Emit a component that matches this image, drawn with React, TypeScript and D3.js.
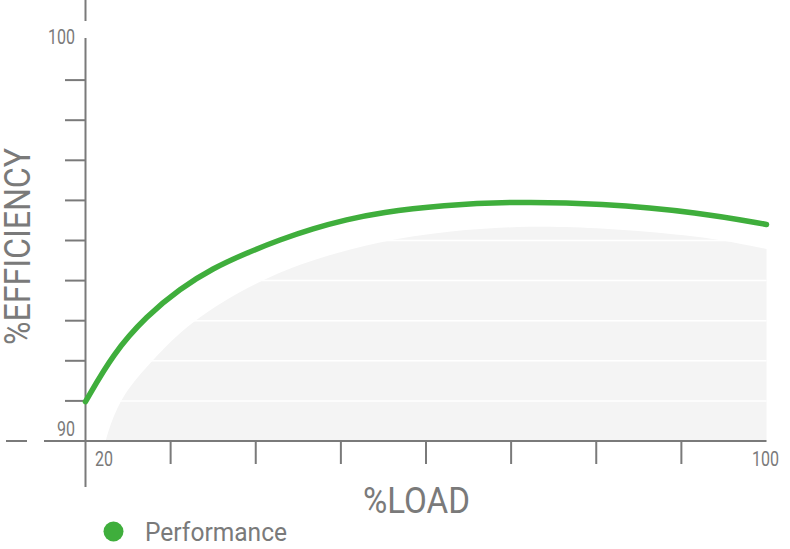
import React from "react";
import * as d3 from "d3";

const loadTicks = [30, 40, 50, 60, 70, 80, 90];
const effTicks = [91, 92, 93, 94, 95, 96, 97, 98, 99];
const gridLines = [91, 92, 93, 94, 95];

const perfLoad = [20, 23.27, 27.19, 31.1, 34.98, 38.94, 42.85, 46.73, 50.68, 54.6, 62, 70.22, 80.44, 92.19, 100];
const perfEff = [90.98, 92.19, 93.12, 93.8, 94.31, 94.69, 95.02, 95.3, 95.52, 95.7, 95.88, 95.97, 95.93, 95.7, 95.4];

const bgLoad = [22.37, 22.9, 24.05, 25.81, 27.69, 32.28, 40.15, 47, 54.24, 62.82, 72.22, 80.44, 92.19, 100];
const bgEff = [90, 90.4, 91.0, 91.52, 91.97, 92.99, 93.99, 94.55, 94.97, 95.25, 95.37, 95.32, 95.12, 94.79];

const W = 790;
const H = 549;
const GRAY = "#7a7a7a";
const GREEN = "#3fae3c";
const FONT = "Roboto, 'Noto Sans', sans-serif";

export default function App() {
  const x = d3.scaleLinear().domain([20, 100]).range([85.5, 766.5]);
  const y = d3.scaleLinear().domain([90, 100]).range([441, 40]);

  const perf = perfLoad.map((v, i) => [v, perfEff[i]] as [number, number]);
  const bg = bgLoad.map((v, i) => [v, bgEff[i]] as [number, number]);

  const line = d3
    .line<[number, number]>()
    .x((d) => x(d[0]))
    .y((d) => y(d[1]))
    .curve(d3.curveBasis);

  const area = d3
    .area<[number, number]>()
    .x((d) => x(d[0]))
    .y0(y(90))
    .y1((d) => y(d[1]))
    .curve(d3.curveBasis);

  return (
    <svg
      width={W}
      height={H}
      style={{ position: "absolute", left: 0, top: 0, background: "#fff" }}
      fontFamily={FONT}
      fontWeight={400}
    >
      <path d={area(bg) || ""} fill="#f4f4f4" />
      {gridLines.map((v) => (
        <line key={"g" + v} x1={x(20)} x2={x(100)} y1={y(v)} y2={y(v)} stroke="#fff" strokeWidth={1.5} />
      ))}

      {/* y axis */}
      <line x1={x(20)} x2={x(20)} y1={0} y2={21} stroke={GRAY} strokeWidth={2} />
      <line x1={x(20)} x2={x(20)} y1={38} y2={487} stroke={GRAY} strokeWidth={2} />
      {effTicks.map((v) => (
        <line key={"yt" + v} x1={65} x2={x(20)} y1={y(v)} y2={y(v)} stroke={GRAY} strokeWidth={2} />
      ))}
      {/* x axis */}
      <line x1={6} x2={27} y1={y(90)} y2={y(90)} stroke={GRAY} strokeWidth={2} />
      <line x1={44} x2={x(100)} y1={y(90)} y2={y(90)} stroke={GRAY} strokeWidth={2} />
      {loadTicks.map((v) => (
        <line key={"xt" + v} x1={x(v)} x2={x(v)} y1={y(90)} y2={464} stroke={GRAY} strokeWidth={2} />
      ))}

      {/* tick labels */}
      <text x={75} y={44} textAnchor="end" fontSize={20} fill={GRAY} textLength={27} lengthAdjust="spacingAndGlyphs">100</text>
      <text x={75} y={436} textAnchor="end" fontSize={20} fill={GRAY} textLength={18} lengthAdjust="spacingAndGlyphs">90</text>
      <text x={95} y={466} fontSize={20} fill={GRAY} textLength={18} lengthAdjust="spacingAndGlyphs">20</text>
      <text x={752} y={466} fontSize={20} fill={GRAY} textLength={27} lengthAdjust="spacingAndGlyphs">100</text>

      {/* axis titles */}
      <text x={363} y={513} fontSize={37} fill={GRAY} textLength={107} lengthAdjust="spacingAndGlyphs">%LOAD</text>
      <text
        transform="translate(29.5,345) rotate(-90)"
        fontSize={37}
        fill={GRAY}
        textLength={197}
        lengthAdjust="spacingAndGlyphs"
      >
        %EFFICIENCY
      </text>

      {/* curve */}
      <path d={line(perf) || ""} fill="none" stroke={GREEN} strokeWidth={5.5} strokeLinecap="round" />

      {/* legend */}
      <circle cx={113.5} cy={531.5} r={10} fill={GREEN} />
      <text x={145} y={541} fontSize={26} fill={GRAY} textLength={142} lengthAdjust="spacingAndGlyphs">Performance</text>
    </svg>
  );
}
